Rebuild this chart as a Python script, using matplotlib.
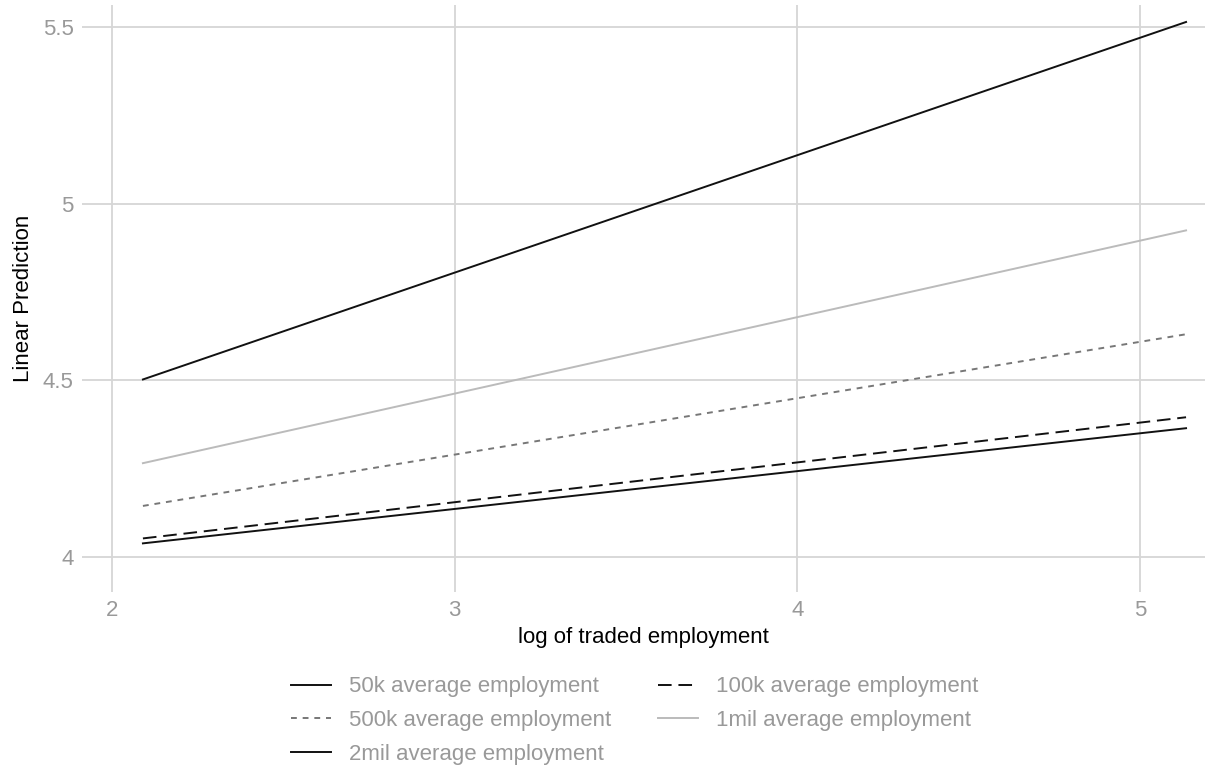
import matplotlib
matplotlib.use('Agg')
import matplotlib.pyplot as plt

plt.rcParams['font.family'] = ['Liberation Sans', 'DejaVu Sans']

x_vals = [2.09, 5.135]
labels = ['50k average employment', '100k average employment',
          '500k average employment', '1mil average employment',
          '2mil average employment']
y_50k = [4.502, 5.514]
y_100k = [4.052, 4.395]
y_500k = [4.144, 4.630]
y_1mil = [4.265, 4.924]
y_2mil = [4.038, 4.364]

series = [y_50k, y_100k, y_500k, y_1mil, y_2mil]
colors = ['#111111', '#111111', '#777777', '#bbbbbb', '#111111']
styles = ['-', (0, (7, 3.5)), (0, (3, 3)), '-', '-']

fig = plt.figure(figsize=(12.14, 7.74), dpi=100)
ax = fig.add_axes([0.0675, 0.235, 0.925, 0.7585])

handles = []
for ys, lab, c, ls in zip(series, labels, colors, styles):
  h, = ax.plot(x_vals, ys, color=c, linestyle=ls, linewidth=1.4, label=lab)
  handles.append(h)

ax.set_xlim(1.912, 5.19)
ax.set_ylim(3.90, 5.562)
ax.set_xticks([2, 3, 4, 5])
ax.set_xticklabels(['2', '3', '4', '5'])
ax.set_yticks([4, 4.5, 5, 5.5])
ax.set_yticklabels(['4', '4.5', '5', '5.5'])
ax.grid(True, color='#d6d6d6', linewidth=1.3)
ax.set_axisbelow(True)
for s in ax.spines.values():
  s.set_visible(False)
ax.tick_params(length=0, labelsize=16, colors='#999999', pad=6)

ax.set_xlabel('log of traded employment', fontsize=16, color='black', labelpad=4)
ax.set_ylabel('Linear Prediction', fontsize=16, color='black', labelpad=6)

# legend filled row by row: reorder for column-major layout
order = [0, 2, 4, 1, 3]
leg = fig.legend([handles[i] for i in order], [labels[i] for i in order],
                 loc='upper center', bbox_to_anchor=(0.523, 0.152), ncol=2,
                 frameon=False, fontsize=16, handlelength=1.8, handletextpad=0.8,
                 columnspacing=2.1, labelspacing=0.58)
for t in leg.get_texts():
  t.set_color('#999999')

fig.savefig('out.png', dpi=100)
